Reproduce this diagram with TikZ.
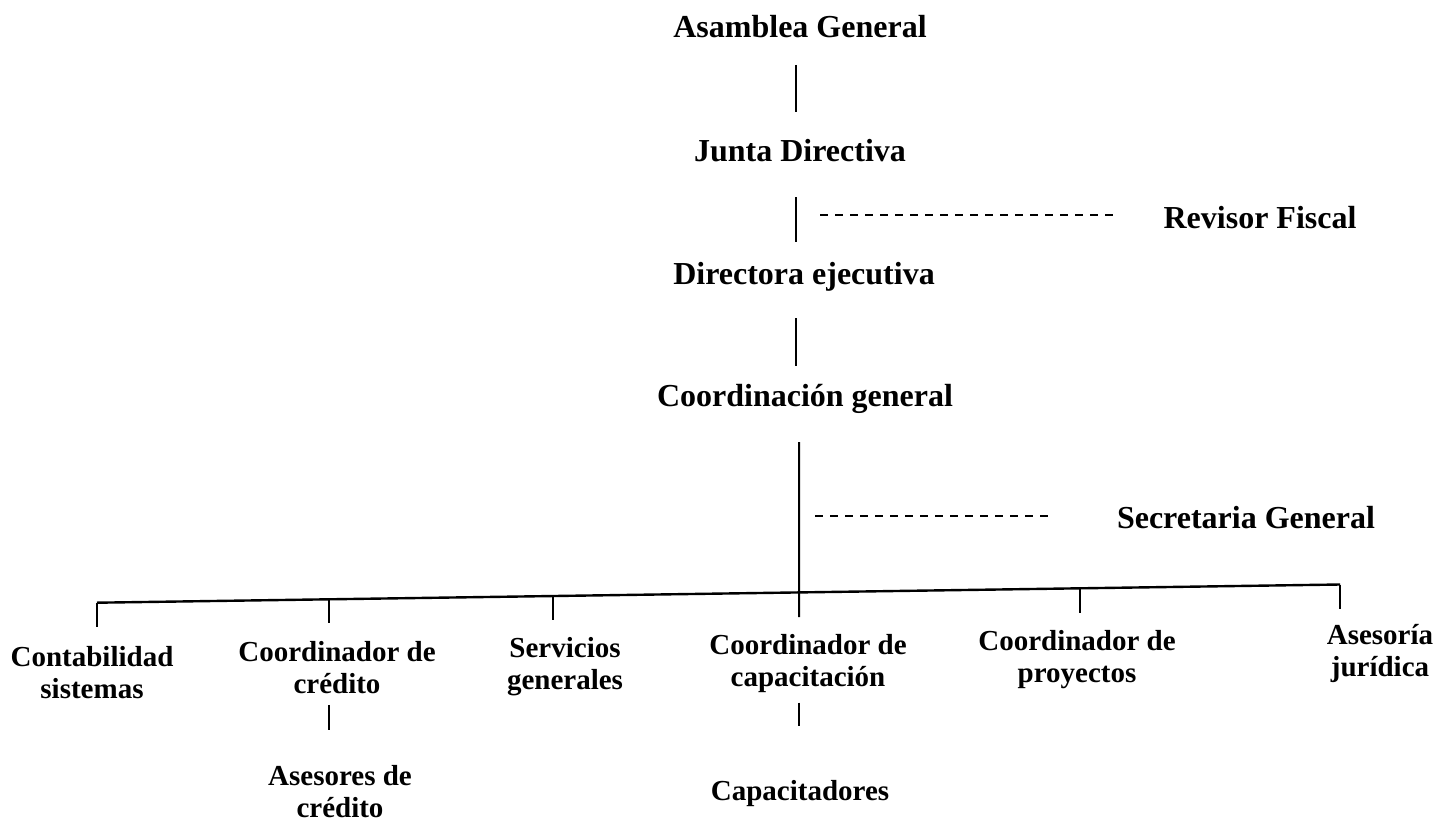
\documentclass[tikz,border=0pt]{standalone}
\usepackage{fontspec}
\setmainfont{Liberation Serif}
\usetikzlibrary{calc}
\tikzset{
  lbl/.style={font=\bfseries\fontsize{32}{38}\selectfont, inner sep=0pt, anchor=base},
  sublbl/.style={font=\bfseries\fontsize{29}{32}\selectfont, inner sep=0pt, align=center, anchor=north},
  link/.style={line width=2pt},
  staff/.style={line width=1.8pt, dash pattern=on 8pt off 7pt},
}
\begin{document}
\begin{tikzpicture}[x=1pt,y=-1pt]
\useasboundingbox (0,0) rectangle (1442,824);

% upper chain
\node[lbl] (ag) at (800,38) {Asamblea General};
\node[lbl] (jd) at (800,161) {Junta Directiva};
\node[lbl] (de) at (804,284) {Directora ejecutiva};
\node[lbl] (cg) at (805,406) {Coordinación general};
\node[lbl] (rf) at (1260,228) {Revisor Fiscal};
\node[lbl] (sg) at (1246,528) {Secretaria General};

\draw[link] ([shift={(-4,27)}]ag.base) -- ([shift={(-4,-49)}]jd.base);
\draw[link] ([shift={(-4,36)}]jd.base) -- ([shift={(-8,-42)}]de.base);
\draw[link] ([shift={(-8,34)}]de.base) -- ([shift={(-9,-40)}]cg.base);

% staff lines
\coordinate (r1) at (820,215);
\draw[staff, shorten >=45pt] (r1) -- (r1 -| rf.west);
\coordinate (s1) at (815,516);
\draw[staff, shorten >=67pt] (s1) -- (s1 -| sg.west);

% bus
\coordinate (bL) at (97,602.7);
\coordinate (bR) at (1340,584.5);
\draw[link, line width=2.4pt] (bL) -- (bR);
\coordinate (b2) at ($(bL)!0.1866!(bR)$);
\coordinate (b3) at ($(bL)!0.3668!(bR)$);
\coordinate (b4) at ($(bL)!0.5648!(bR)$);
\coordinate (b5) at ($(bL)!0.7908!(bR)$);

% lower nodes
\node[sublbl] (cs) at (92,646) {Contabilidad\\sistemas};
\node[sublbl] (cc) at (337,641) {Coordinador de\\crédito};
\node[sublbl] (sv) at (565,637) {Servicios\\generales};
\node[sublbl] (ccap) at (808,634) {Coordinador de\\capacitación};
\node[sublbl] (cp) at (1077,630) {Coordinador de\\proyectos};
\node[sublbl] (aj) at (1380,624) {Asesoría\\jurídica};
\node[sublbl] (ac) at (340,765) {Asesores de\\crédito};
\node[sublbl] (cap) at (800,780) {Capacitadores};

% drops
\draw[link, shorten >=19pt] (bL) -- (bL |- cs.north);
\draw[link, shorten >=18pt] (b2) -- (b2 |- cc.north);
\draw[link, shorten >=17pt] (b3) -- (b3 |- sv.north);
\draw[link, shorten >=17pt] ([shift={(-6,36)}]cg.base) -- (b4 |- ccap.north);
\draw[link, shorten >=17pt] (b5) -- (b5 |- cp.north);
\draw[link, shorten >=15pt] (bR) -- (bR |- aj.north);

% second level
\draw[link, shorten <=11pt, shorten >=35pt] (b2 |- cc.south) -- (b2 |- ac.north);
\draw[link, shorten <=10pt, shorten >=54pt] (b4 |- ccap.south) -- (b4 |- cap.north);
\end{tikzpicture}
\end{document}
